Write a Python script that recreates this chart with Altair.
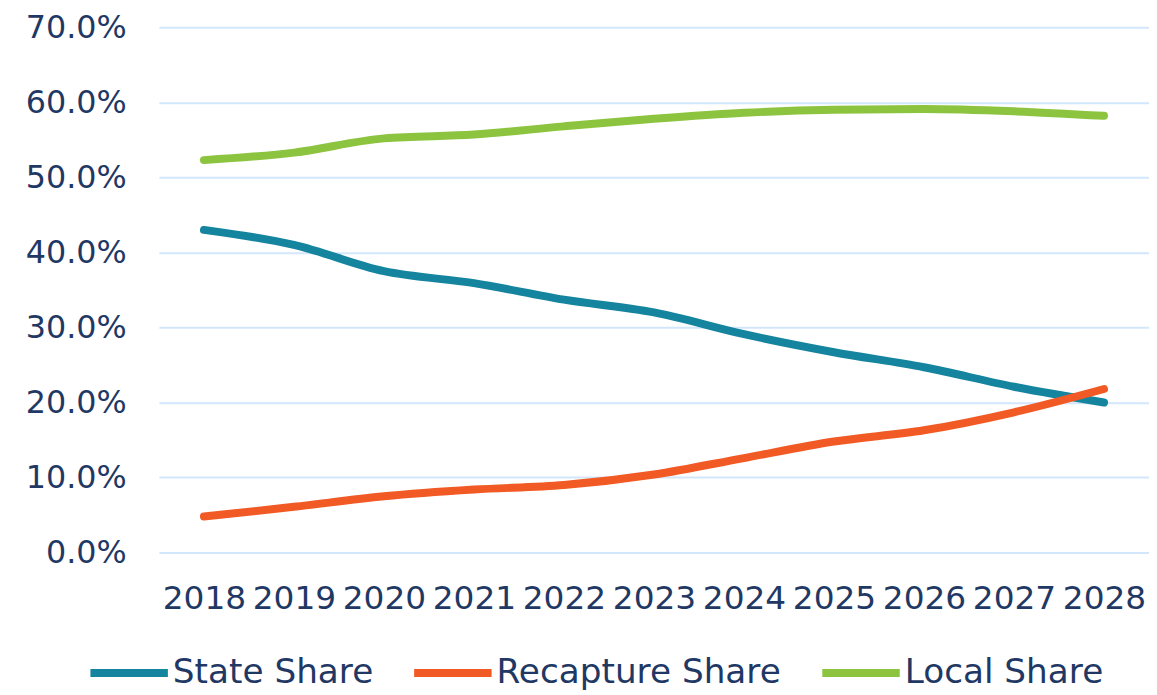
import altair as alt
import pandas as pd

years = [str(y) for y in range(2018, 2029)]
state_share = [43.0, 41.0, 37.5, 35.9, 33.7, 32.0, 29.1, 26.7, 24.7, 22.1, 20.0]
recapture_share = [4.8, 6.1, 7.5, 8.4, 9.0, 10.4, 12.6, 14.8, 16.3, 18.7, 21.8]
local_share = [52.3, 53.3, 55.2, 55.7, 56.8, 57.8, 58.6, 59.0, 59.1, 58.8, 58.2]
series_names = ["State Share", "Recapture Share", "Local Share"]
series_colors = ["#15849E", "#F15A24", "#8CC43F"]
y_ticks = [0.0, 0.1, 0.2, 0.3, 0.4, 0.5, 0.6, 0.7]

rows = []
for name, vals in zip(series_names, [state_share, recapture_share, local_share]):
    for yr, v in zip(years, vals):
        rows.append({"year": yr, "value": v / 100.0, "series": name})
df = pd.DataFrame(rows)

FONT = "DejaVu Sans"
TEXT = "#1F3864"

chart = alt.Chart(df).mark_line(
    interpolate="monotone", strokeWidth=8, strokeCap="round", strokeJoin="round"
).encode(
    x=alt.X(
        "year:O",
        sort=years,
        scale=alt.Scale(type="point", padding=0.5),
        axis=alt.Axis(
            title=None, labelAngle=0, labelFont=FONT, labelFontSize=33,
            labelColor=TEXT, labelPadding=30, ticks=False, domain=False,
            grid=False, labelBaseline="top",
        ),
    ),
    y=alt.Y(
        "value:Q",
        scale=alt.Scale(domain=[0, 0.7], nice=False, zero=True),
        axis=alt.Axis(
            title=None, format=".1%", values=y_ticks, labelFont=FONT,
            labelFontSize=32, labelColor=TEXT, labelPadding=33, ticks=False,
            domain=False, grid=True, gridColor="#D3E7FC", gridWidth=2,
        ),
    ),
    color=alt.Color(
        "series:N",
        sort=series_names,
        scale=alt.Scale(domain=series_names, range=series_colors),
        legend=alt.Legend(
            title=None, orient="none", legendX=-73, legendY=607,
            direction="horizontal", symbolType="stroke", symbolSize=6084,
            symbolStrokeWidth=8, labelFont=FONT, labelFontSize=34.5,
            labelColor=TEXT, labelOffset=1, columnPadding=25, labelLimit=500,
        ),
    ),
).properties(
    width=997,
    height=529,
    autosize=alt.AutoSizeParams(type="none"),
    padding={"left": 152, "top": 17, "right": 0, "bottom": 141},
).configure_view(stroke=None)

chart.save("out.html", embed_options={"renderer": "svg", "actions": False})
